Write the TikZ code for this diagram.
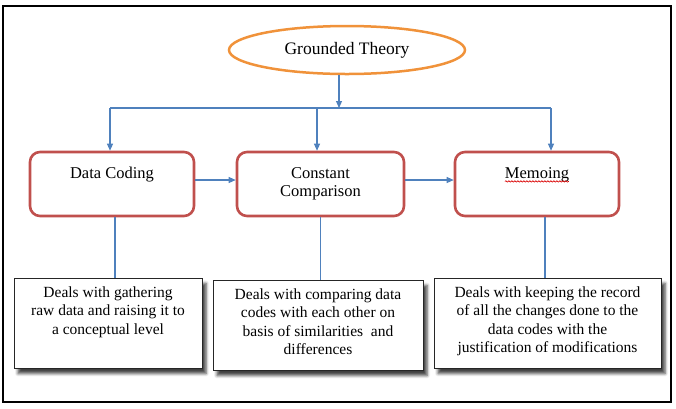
\documentclass[tikz,border=0pt]{standalone}
\usepackage{fontspec}
\setmainfont{Liberation Serif}
\usetikzlibrary{arrows.meta,shapes.geometric,positioning,calc,shadows.blur,decorations.pathmorphing}
\definecolor{ovalorange}{RGB}{240,146,58}
\definecolor{stagered}{RGB}{192,80,77}
\definecolor{linkblue}{RGB}{79,129,189}
\begin{document}
\begin{tikzpicture}[
    x=1pt, y=-1pt,
    oval/.style={draw=ovalorange, ellipse, line width=2.5pt, minimum width=236pt, minimum height=48pt, font=\fontsize{17.5}{20}\selectfont},
    stage/.style={draw=stagered, rounded corners=10pt, line width=2.6pt, minimum width=164pt, minimum height=64pt, align=center, font=\fontsize{16.5}{18}\selectfont},
    oneline/.style={text depth=22pt},
    note/.style={draw=black!85, line width=0.9pt, fill=white, anchor=north, align=center, inner ysep=0pt, font=\fontsize{15.5}{18.5}\selectfont, blur shadow={shadow xshift=4pt, shadow yshift=-5pt, shadow blur radius=3pt, shadow opacity=75}},
    threelines/.style={text height=56pt, text depth=34pt},
    fourlines/.style={text height=74.5pt, text depth=15.5pt},
    link/.style={draw=linkblue, line width=1.1pt},
    arr/.style={link, -{Triangle[length=7pt, width=6pt]}},
    squiggle/.style={draw=red!85!black, line width=0.6pt, decorate, decoration={snake, amplitude=0.7pt, segment length=3pt}}
]
\useasboundingbox (0,0) rectangle (676,408);
\draw[line width=2pt] (3,6) rectangle (671,402);

\node[oval] (gt) at (347,50) {Grounded Theory};

\node[stage, oneline] (dc) at (112,184) {Data Coding};
\node[stage, minimum width=167pt] (cc) at (320.5,184) {Constant\\Comparison};
\node[stage, oneline] (mm) at (537,184) {Memoing};
\draw[squiggle] ([yshift=-3pt]mm.text) -- ([yshift=-3pt,xshift=64pt]mm.text);

\node[note, threelines, minimum width=188pt] (d1) at (108,278) {Deals with gathering\\raw data and raising it to\\a conceptual level};
\node[note, fourlines, minimum width=210pt] (d2) at (318,280) {Deals with comparing data\\codes with each other on\\basis of similarities\ \ and\\differences};
\node[note, fourlines, minimum width=227pt] (d3) at (547.5,278) {Deals with keeping the record\\of all the changes done to the\\data codes with the\\justification of modifications};

% branching from the oval
\coordinate (busL) at (110,108);
\coordinate (busM) at (339,108);
\coordinate (busC) at (317,108);
\coordinate (busR) at (551,108);
\draw[arr] (gt.south -| busM) -- (busM);
\draw[link] (busL) -- (busR);
\draw[arr] (busL) -- (busL |- dc.north);
\draw[arr] (busC) -- (busC |- cc.north);
\draw[arr] (busR) -- (busR |- mm.north);

\draw[arr] ([yshift=4pt]dc.east) -- ([yshift=4pt]cc.west);
\draw[arr] ([yshift=4pt]cc.east) -- ([yshift=4pt]mm.west);

\draw[link] ([xshift=3pt]dc.south) -- ([xshift=3pt]dc.south |- d1.north);
\draw[link] (cc.south) -- (cc.south |- d2.north);
\draw[link] ([xshift=8pt]mm.south) -- ([xshift=8pt]mm.south |- d3.north);
\end{tikzpicture}
\end{document}
